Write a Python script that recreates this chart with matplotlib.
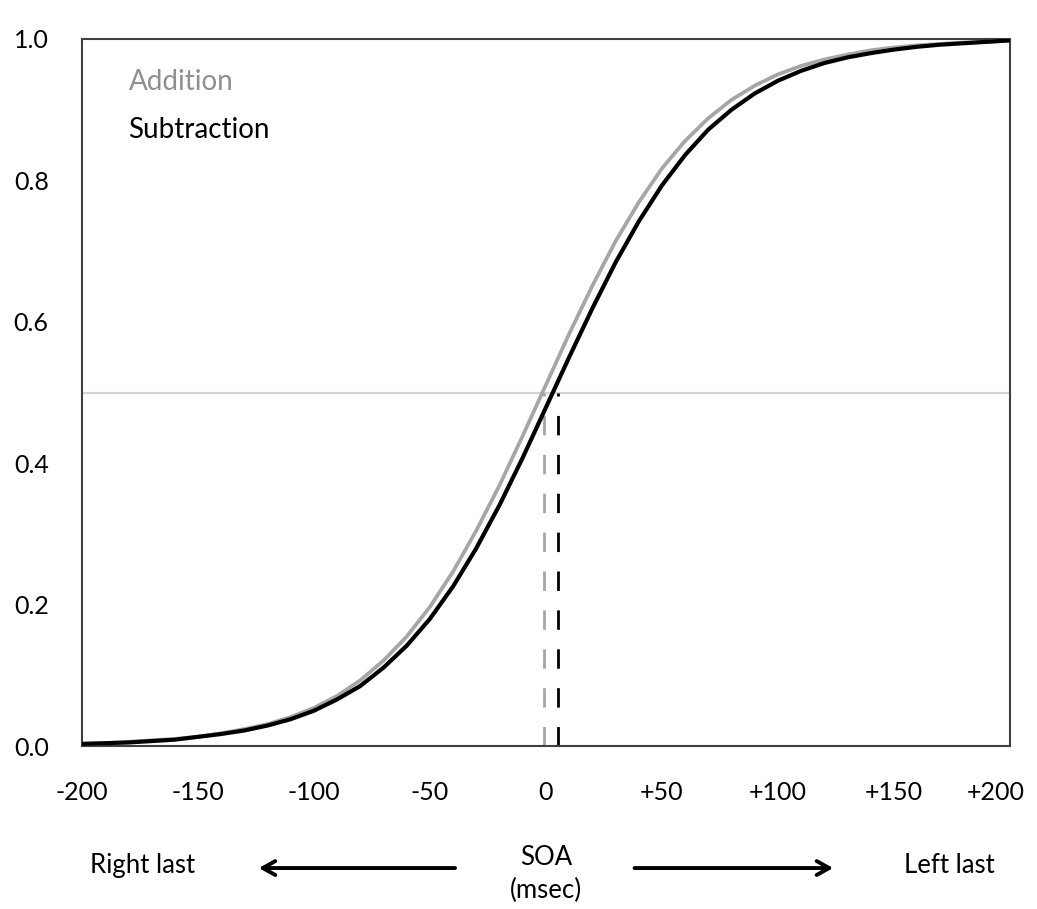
import matplotlib
matplotlib.use("Agg")
import matplotlib.pyplot as plt
from matplotlib.transforms import ScaledTranslation

plt.rcParams["font.family"] = ["Lato", "DejaVu Sans"]

soa = [-200, -190, -180, -170, -160, -150, -140, -130, -120, -110, -100,
       -90, -80, -70, -60, -50, -40, -30, -20, -10, 0,
       10, 20, 30, 40, 50, 60, 70, 80, 90, 100,
       110, 120, 130, 140, 150, 160, 170, 180, 190, 200]
addition = [0.003, 0.004, 0.006, 0.008, 0.010, 0.013, 0.018, 0.024, 0.031, 0.041, 0.054,
            0.071, 0.093, 0.121, 0.155, 0.197, 0.247, 0.305, 0.369, 0.439, 0.511,
            0.583, 0.651, 0.714, 0.769, 0.817, 0.856, 0.888, 0.914, 0.934, 0.950,
            0.962, 0.971, 0.978, 0.984, 0.988, 0.991, 0.993, 0.995, 0.996, 0.998]
subtraction = [0.003, 0.004, 0.005, 0.007, 0.009, 0.013, 0.017, 0.022, 0.029, 0.038, 0.050,
               0.066, 0.085, 0.111, 0.142, 0.180, 0.226, 0.280, 0.341, 0.408, 0.479,
               0.550, 0.619, 0.684, 0.742, 0.793, 0.836, 0.872, 0.900, 0.923, 0.941,
               0.955, 0.966, 0.974, 0.980, 0.985, 0.989, 0.992, 0.994, 0.996, 0.998]
pse_addition = -1
pse_subtraction = 5
criterion = 0.5

xticks = [-200, -150, -100, -50, 0, 50, 100, 150, 200]
xticklabels = ["-200", "-150", "-100", "-50", "0", "+50", "+100", "+150", "+200"]
yticks = [0.0, 0.2, 0.4, 0.6, 0.8, 1.0]

GREY = "#a6a6a6"
fig = plt.figure(figsize=(10.37, 9.09), dpi=100)
ax = fig.add_axes([0.0791, 0.1793, 0.8948, 0.7778])

ax.axhline(criterion, color="#d4d4d4", lw=1.6, zorder=1)
ax.plot([pse_addition, pse_addition], [0, criterion], color=GREY, lw=2, dashes=(7, 7), zorder=2)
ax.plot([pse_subtraction, pse_subtraction], [0, criterion], color="black", lw=2, dashes=(7, 7), zorder=2)
ax.plot(soa, addition, color=GREY, lw=2.7, solid_capstyle="butt", zorder=3)
ax.plot(soa, subtraction, color="black", lw=3, solid_capstyle="butt", zorder=4)

ax.set_xlim(-200, 200)
ax.set_ylim(0, 1)
ax.set_xticks(xticks)
ax.set_xticklabels(xticklabels)
ax.set_yticks(yticks)
ax.set_yticklabels([f"{v:.1f}" for v in yticks])
ax.tick_params(axis="both", length=0, labelsize=18)
ax.tick_params(axis="x", pad=25)
ax.tick_params(axis="y", pad=24)
for s in ax.spines.values():
    s.set_color("#404040")
    s.set_linewidth(1.5)

# keep the last x label inside the figure, like the original
last = ax.get_xticklabels()[-1]
last.set_transform(last.get_transform() + ScaledTranslation(-10 / 72, 0, fig.dpi_scale_trans))

ax.text(0.05, 0.939, "Addition", transform=ax.transAxes, color="#8f8f8f", fontsize=20, va="center")
ax.text(0.05, 0.871, "Subtraction", transform=ax.transAxes, color="black", fontsize=20, va="center")

tr = ax.get_xaxis_transform()
ax.text(0, -0.157, "SOA", transform=tr, ha="center", va="center", fontsize=18.5)
ax.text(0, -0.204, "(msec)", transform=tr, ha="center", va="center", fontsize=18.5)
ax.text(-174, -0.169, "Right last", transform=tr, ha="center", va="center", fontsize=18.5)
ax.text(174, -0.169, "Left last", transform=tr, ha="center", va="center", fontsize=18.5)
arrow = dict(arrowstyle="->,head_length=0.9,head_width=0.5", color="black", lw=2.8)
ax.annotate("", xy=(-125, -0.1726), xytext=(-38, -0.1726), xycoords=tr, textcoords=tr, arrowprops=arrow)
ax.annotate("", xy=(125, -0.1726), xytext=(37, -0.1726), xycoords=tr, textcoords=tr, arrowprops=arrow)

fig.savefig("out.png", dpi=100)
